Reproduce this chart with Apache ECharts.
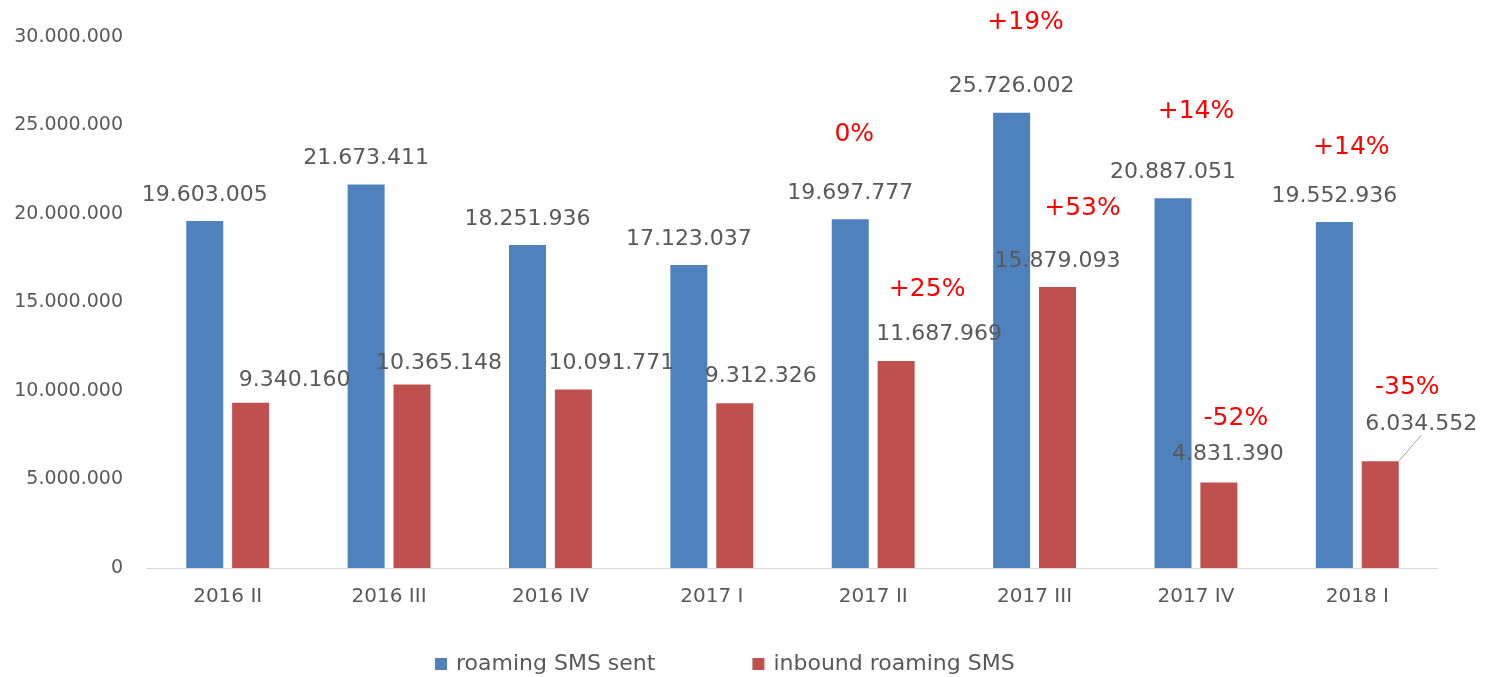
<!DOCTYPE html>
<html>
<head>
<meta charset="utf-8">
<script src="https://cdn.jsdelivr.net/npm/echarts@6/dist/echarts.min.js"></script>
<style>
html,body{margin:0;padding:0;background:#fff;}
#chart{width:1489px;height:677px;}
</style>
</head>
<body>
<div id="chart"></div>
<script>
// ---- data ----
const categories = ['2016 II', '2016 III', '2016 IV', '2017 I', '2017 II', '2017 III', '2017 IV', '2018 I'];
const smsSent = [19603005, 21673411, 18251936, 17123037, 19697777, 25726002, 20887051, 19552936];
const smsInbound = [9340160, 10365148, 10091771, 9312326, 11687969, 15879093, 4831390, 6034552];
const sentChange = [null, null, null, null, '0%', '+19%', '+14%', '+14%'];
const inboundChange = [null, null, null, null, '+25%', '+53%', '-52%', '-35%'];
const seriesNames = ['roaming SMS sent', 'inbound roaming SMS'];
const yTicks = { min: 0, max: 30000000, interval: 5000000 };

// ---- layout (label offsets, px) ----
const inboundLabelShift = [[44, 4], [27, 5], [38, 0], [26, -1], [43, -1], [0, 0], [9, -2], [41, -11]];
const sentPctShift = [null, null, null, null, [4, -85], [14, -90], [23, -87], [17, -74]];
const inboundPctShift = [null, null, null, null, [31, -72], [25, -78], [17, -64], [27, -74]];

const fmt = v => String(v).replace(/\B(?=(\d{3})+(?!\d))/g, '.');
const FONT = 'DejaVu Sans';
const GRAY = '#595959';
const PCT_RED = '#ff0000';

function pctMarks(values, changes, shifts) {
  const out = [];
  changes.forEach((c, i) => {
    if (c == null) return;
    out.push({
      coord: [i, values[i]],
      value: c,
      label: { offset: shifts[i] }
    });
  });
  return out;
}

const chart = echarts.init(document.getElementById('chart'), null, { renderer: 'canvas' });
chart.setOption({
  animation: false,
  backgroundColor: '#ffffff',
  grid: { left: 147, right: 51, top: 37, bottom: 109, containLabel: false },
  legend: {
    data: seriesNames,
    left: 430,
    top: 648,
    itemWidth: 12,
    itemHeight: 12,
    itemGap: 97,
    icon: 'rect',
    textStyle: { fontFamily: FONT, fontSize: 22, color: GRAY, padding: [0, 0, 0, 4] }
  },
  xAxis: {
    type: 'category',
    data: categories,
    axisLine: { show: true, lineStyle: { color: '#d9d9d9', width: 1 } },
    axisTick: { show: false },
    axisLabel: { fontFamily: FONT, fontSize: 20, color: GRAY, margin: 19 }
  },
  yAxis: {
    type: 'value',
    min: yTicks.min,
    max: yTicks.max,
    interval: yTicks.interval,
    axisLine: { show: false },
    axisTick: { show: false },
    splitLine: { show: false },
    axisLabel: { fontFamily: FONT, fontSize: 19, color: GRAY, margin: 24, formatter: fmt }
  },
  series: [
    {
      name: seriesNames[0],
      type: 'bar',
      data: smsSent,
      barWidth: 37,
      barGap: '24%',
      itemStyle: { color: '#4f81bd' },
      label: {
        show: true, position: 'top', distance: 15,
        fontFamily: FONT, fontSize: 22, color: GRAY,
        formatter: p => fmt(p.value)
      },
      markPoint: {
        symbol: 'rect', symbolSize: 0,
        label: {
          show: true, position: 'inside',
          fontFamily: FONT, fontSize: 25, color: PCT_RED,
          formatter: p => p.value
        },
        data: pctMarks(smsSent, sentChange, sentPctShift)
      }
    },
    {
      name: seriesNames[1],
      type: 'bar',
      data: smsInbound.map((v, i) => i === 7
        ? { value: v, labelLine: { show: true, lineStyle: { color: '#a6a6a6', width: 1 } } }
        : v),
      barWidth: 37,
      barGap: '24%',
      itemStyle: { color: '#c0504d' },
      label: {
        show: true, position: 'top', distance: 15,
        fontFamily: FONT, fontSize: 22, color: GRAY,
        formatter: p => fmt(p.value)
      },
      labelLine: { show: false },
      labelLayout: p => ({ dx: inboundLabelShift[p.dataIndex][0], dy: inboundLabelShift[p.dataIndex][1] }),
      markPoint: {
        symbol: 'rect', symbolSize: 0,
        label: {
          show: true, position: 'inside',
          fontFamily: FONT, fontSize: 25, color: PCT_RED,
          formatter: p => p.value
        },
        data: pctMarks(smsInbound, inboundChange, inboundPctShift)
      }
    }
  ]
});
</script>
</body>
</html>
